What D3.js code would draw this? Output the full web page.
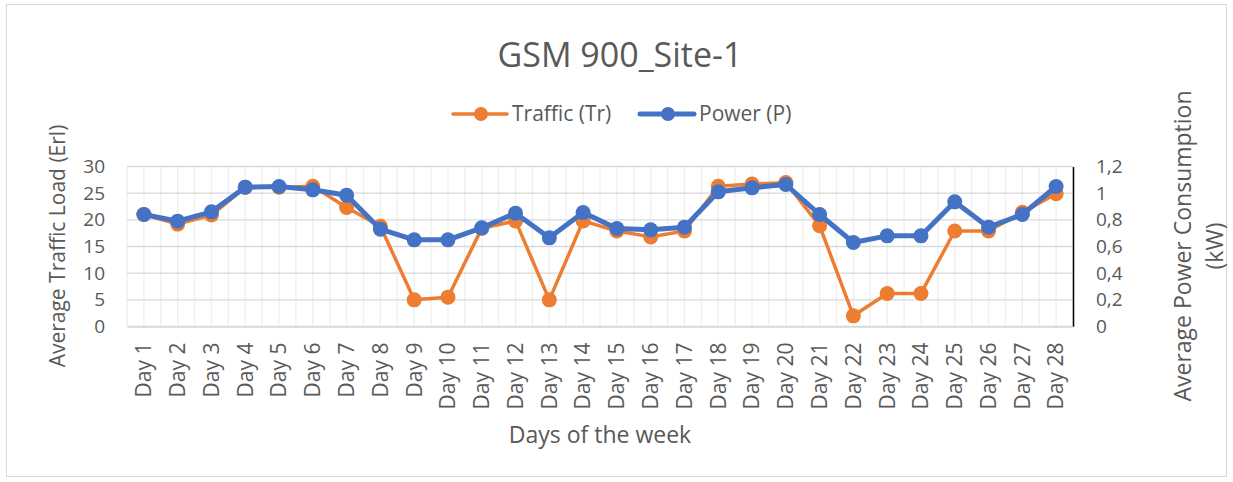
<!DOCTYPE html>
<html>
<head>
<meta charset="utf-8">
<script src="https://cdn.jsdelivr.net/npm/d3@7"></script>
<style>
  html, body { margin: 0; padding: 0; background: #fff; }
  svg { display: block; font-family: "Open Sans", "DejaVu Sans", sans-serif; }
</style>
</head>
<body>
<svg id="chart" width="1233" height="482"></svg>
<script>
const days = ["Day 1","Day 2","Day 3","Day 4","Day 5","Day 6","Day 7","Day 8","Day 9","Day 10",
  "Day 11","Day 12","Day 13","Day 14","Day 15","Day 16","Day 17","Day 18","Day 19","Day 20",
  "Day 21","Day 22","Day 23","Day 24","Day 25","Day 26","Day 27","Day 28"];
const traffic = [21.0, 19.2, 20.9, 26.1, 26.1, 26.3, 22.3, 18.8, 5.0, 5.5,
  18.4, 19.8, 5.0, 19.8, 17.9, 16.8, 17.9, 26.3, 26.7, 27.0,
  18.9, 2.0, 6.2, 6.2, 17.9, 17.9, 21.4, 24.9];
const power = [0.84, 0.79, 0.86, 1.045, 1.05, 1.025, 0.985, 0.73, 0.65, 0.65,
  0.74, 0.85, 0.665, 0.855, 0.735, 0.725, 0.745, 1.01, 1.04, 1.065,
  0.84, 0.63, 0.68, 0.68, 0.935, 0.745, 0.84, 1.05];
const leftTicks = [0, 5, 10, 15, 20, 25, 30];
const rightTicks = [0, 0.2, 0.4, 0.6, 0.8, 1.0, 1.2];

const svg = d3.select("#chart");
const plot = { left: 127, right: 1073, top: 166.5, bottom: 326.5 };
const grey = "#595959";
const orange = "#ED7D31", blue = "#4472C4";

// outer chart border
svg.append("rect").attr("x", 6.5).attr("y", 4.5).attr("width", 1220).attr("height", 472)
  .attr("fill", "#fff").attr("stroke", "#d9d9d9").attr("stroke-width", 1);

const x = d3.scaleBand().domain(days).range([plot.left, plot.right]).padding(0);
const yL = d3.scaleLinear().domain([0, 30]).range([plot.bottom, plot.top]);
const yR = d3.scaleLinear().domain([0, 1.2]).range([plot.bottom, plot.top]);

// vertical minor gridlines (category boundaries and centres)
const vLines = [];
days.forEach(d => { vLines.push(x(d)); vLines.push(x(d) + x.bandwidth() / 2); });
vLines.push(plot.right);
svg.append("g").selectAll("line").data(vLines).join("line")
  .attr("x1", d => d).attr("x2", d => d)
  .attr("y1", plot.top).attr("y2", plot.bottom)
  .attr("stroke", "#efefef").attr("stroke-width", 1.3);

// horizontal major gridlines
svg.append("g").selectAll("line").data(leftTicks).join("line")
  .attr("x1", plot.left).attr("x2", plot.right)
  .attr("y1", d => yL(d)).attr("y2", d => yL(d))
  .attr("stroke", "#d9d9d9").attr("stroke-width", 1.3);

// left axis (labels only)
const gL = svg.append("g").attr("transform", `translate(${plot.left},0)`)
  .call(d3.axisLeft(yL).tickValues(leftTicks).tickSize(0).tickPadding(22));
gL.select(".domain").remove();
gL.selectAll("text").attr("fill", grey).style("font-size", "19px")
  .style("font-family", "'Open Sans', sans-serif");

// right axis
const gR = svg.append("g").attr("transform", `translate(${plot.right},0)`)
  .call(d3.axisRight(yR).tickValues(rightTicks).tickSize(0).tickPadding(23)
    .tickFormat(d => d3.format("~g")(d).replace(".", ",")));
gR.select(".domain").attr("stroke", "#000").attr("stroke-width", 1.5);
gR.selectAll("text").attr("fill", grey).style("font-size", "19px")
  .style("font-family", "'Open Sans', sans-serif");

// bottom axis
const gB = svg.append("g").attr("transform", `translate(0,${plot.bottom})`)
  .call(d3.axisBottom(x).tickSize(0).tickPadding(0));
gB.select(".domain").attr("stroke", "#d9d9d9").attr("stroke-width", 1.3);
gB.selectAll("text")
  .attr("fill", grey).style("font-size", "21px")
  .style("font-family", "'Open Sans', sans-serif")
  .attr("text-anchor", "end")
  .attr("dy", "0.35em")
  .attr("transform", "translate(0,16) rotate(-90)")
  .attr("x", 0).attr("y", 0);

// lines
const lineT = d3.line().x(d => x(d.day) + x.bandwidth() / 2).y(d => yL(d.v));
const lineP = d3.line().x(d => x(d.day) + x.bandwidth() / 2).y(d => yR(d.v));
const tData = days.map((d, i) => ({ day: d, v: traffic[i] }));
const pData = days.map((d, i) => ({ day: d, v: power[i] }));

svg.append("path").datum(tData).attr("d", lineT).attr("fill", "none")
  .attr("stroke", orange).attr("stroke-width", 3.5).attr("stroke-linejoin", "round");
svg.append("g").selectAll("circle").data(tData).join("circle")
  .attr("cx", d => x(d.day) + x.bandwidth() / 2).attr("cy", d => yL(d.v))
  .attr("r", 7.5).attr("fill", orange);

svg.append("path").datum(pData).attr("d", lineP).attr("fill", "none")
  .attr("stroke", blue).attr("stroke-width", 5).attr("stroke-linejoin", "round");
svg.append("g").selectAll("circle").data(pData).join("circle")
  .attr("cx", d => x(d.day) + x.bandwidth() / 2).attr("cy", d => yR(d.v))
  .attr("r", 7.5).attr("fill", blue);

// title
svg.append("text").attr("x", 620).attr("y", 67).attr("text-anchor", "middle")
  .attr("fill", grey).style("font-size", "34px").text("GSM 900_Site-1");

// legend
const leg = svg.append("g").style("font-size", "21px");
const legItems = [
  { name: "Traffic (Tr)", color: orange, x0: 453, w: 3.5 },
  { name: "Power (P)", color: blue, x0: 640, w: 5 }
];
legItems.forEach(it => {
  leg.append("line").attr("x1", it.x0).attr("x2", it.x0 + 54).attr("y1", 114).attr("y2", 114)
    .attr("stroke", it.color).attr("stroke-width", it.w).attr("stroke-linecap", "round");
  leg.append("circle").attr("cx", it.x0 + 28).attr("cy", 114).attr("r", 7).attr("fill", it.color);
  leg.append("text").attr("x", it.x0 + 59).attr("y", 114).attr("dy", "0.35em")
    .attr("fill", grey).text(it.name);
});

// axis titles
svg.append("text").attr("transform", "translate(65,246) rotate(-90)")
  .attr("text-anchor", "middle").attr("fill", grey).style("font-size", "21px")
  .text("Average Traffic Load (Erl)");
svg.append("text").attr("transform", "translate(1191,246) rotate(-90)")
  .attr("text-anchor", "middle").attr("fill", grey).style("font-size", "23px")
  .text("Average Power Consumption");
svg.append("text").attr("transform", "translate(1223,246) rotate(-90)")
  .attr("text-anchor", "middle").attr("fill", grey).style("font-size", "23px")
  .text("(kW)");
svg.append("text").attr("x", 600).attr("y", 443).attr("text-anchor", "middle")
  .attr("fill", grey).style("font-size", "23px")
  .text("Days of the week");
</script>
</body>
</html>
